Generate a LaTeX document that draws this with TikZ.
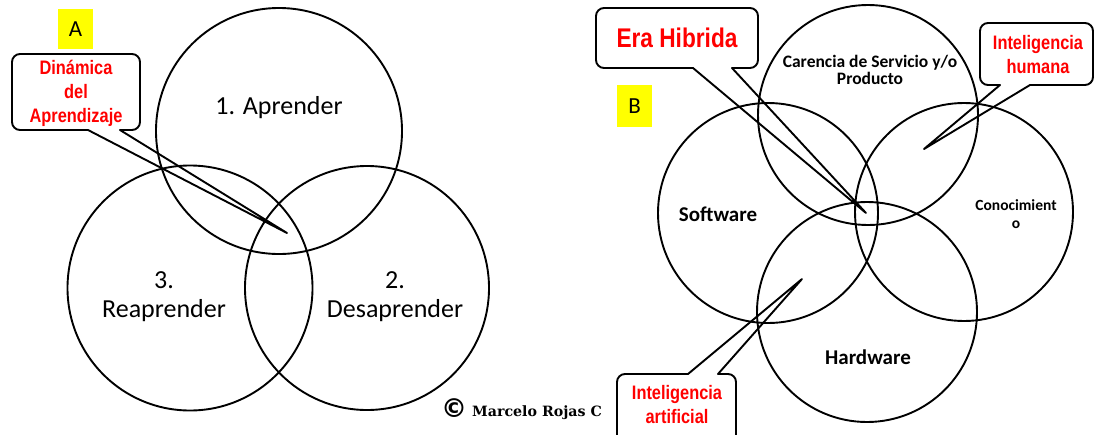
\documentclass[tikz,border=0pt]{standalone}
\usepackage{fontspec}
\newfontfamily\calibrifont{Carlito}
\newfontfamily\redfont[FakeStretch=0.84]{Liberation Sans}
\newfontfamily\symfont{DejaVu Sans}
\newfontfamily\creditfont{DejaVu Serif}
\definecolor{callred}{RGB}{255,0,0}
\definecolor{tagyellow}{RGB}{255,255,0}
% bubble with tail leaving the bottom edge: left, top, right, bottom, base1 x, base2 x, tip
\newcommand\bubbledown[7]{%
  \draw[bubbleline] (#5,#4) -- (#7) -- (#6,#4) -- (#3-8,#4)
    arc[start angle=90,end angle=0,radius=8] -- (#3,#2+8)
    arc[start angle=0,end angle=-90,radius=8] -- (#1+8,#2)
    arc[start angle=-90,end angle=-180,radius=8] -- (#1,#4-8)
    arc[start angle=180,end angle=90,radius=8] -- cycle;}
% bubble with tail leaving the top edge
\newcommand\bubbleup[7]{%
  \draw[bubbleline] (#6,#2) -- (#7) -- (#5,#2) -- (#1+8,#2)
    arc[start angle=-90,end angle=-180,radius=8] -- (#1,#4-8)
    arc[start angle=180,end angle=90,radius=8] -- (#3-8,#4)
    arc[start angle=90,end angle=0,radius=8] -- (#3,#2+8)
    arc[start angle=0,end angle=-90,radius=8] -- cycle;}
\begin{document}
\begin{tikzpicture}[x=1pt,y=-1pt,
  ring/.style={circle, draw, line width=1.9pt, inner sep=0pt, minimum size=#1},
  bubbleline/.style={draw, line width=1.9pt, line join=round},
  biglab/.style={font=\calibrifont\fontsize{26}{29}\selectfont, align=center, inner sep=0pt},
  blab/.style={font=\calibrifont\bfseries\fontsize{#1}{#1}\selectfont, align=center, inner sep=0pt},
  redlab/.style={font=\redfont\bfseries\fontsize{#1}{24}\selectfont, text=callred, align=center, inner sep=0pt},
  tag/.style={fill=tagyellow, minimum width=35pt, minimum height=41pt, inner sep=0pt, font=\calibrifont\fontsize{23}{23}\selectfont}]
\useasboundingbox (0,0) rectangle (1094,434);
\clip (0,0) rectangle (1094,434);
\fill[white] (0,0) rectangle (1094,434);

% ---------- Panel A ----------
\node[tag, minimum height=40pt] (tagA) at (75.5,29) {A};
\node[ring=246pt] (apr) at (279,131) {};
\node[ring=245pt] (rea) at (190,288) {};
\node[ring=244pt] (des) at (367,288) {};
\node[biglab] (aprL) at (279,108) {1. Aprender};
\node[biglab] (reaL) at (164,297) {3.\\Reaprender};
\node[biglab] (desL) at (395,297) {2.\\Desaprender};
\coordinate (tipA) at (287,233);
\bubbledown{12}{54}{140}{130}{88}{120}{tipA}
\node[redlab=19.5] (dinA) at (76,93) {Dinámica\\del\\Aprendizaje};

% ---------- Panel B ----------
\node[tag, minimum height=42pt] (tagB) at (634.5,106) {B};
\node[ring=220pt] (car) at (868,115) {};
\node[ring=220pt] (sof) at (768,213) {};
\node[ring=218pt] (con) at (964,212) {};
\node[ring=220pt] (har) at (867,312) {};
\node[font=\calibrifont\bfseries\fontsize{17.5}{17.5}\selectfont, align=center, inner sep=0pt] (carL) at (870,70) {Carencia de Servicio y/o\\Producto};
\node[blab=21] (sofL) at (718,214) {Software};
\node[font=\calibrifont\bfseries\fontsize{15.5}{18}\selectfont, align=center, inner sep=0pt] (conL) at (1016,214) {Conocimient\\o};
\node[blab=21] (harL) at (868,357) {Hardware};

\coordinate (tipEra) at (866,213);
\bubbledown{596}{8}{758}{68}{693}{732}{tipEra}
\node[font=\redfont\bfseries\fontsize{27}{27}\selectfont, text=callred, inner sep=0pt] (era) at (677,38) {Era Hibrida};

\coordinate (tipHum) at (924,149);
\bubbledown{980}{23}{1093}{85}{1000}{1030}{tipHum}
\node[redlab=19.5] (hum) at (1038,55) {Inteligencia\\humana};

\coordinate (tipArt) at (802,279);
\bubbleup{617}{374}{736}{450}{688}{718}{tipArt}
\node[redlab=19.5] (art) at (677,405) {Inteligencia\\artificial};

% ---------- credit ----------
\node[font=\symfont\bfseries\fontsize{26}{26}\selectfont, inner sep=0pt] (copy) at (454,408) {©};
\node[font=\creditfont\bfseries\fontsize{14.2}{14.2}\selectfont, inner sep=0pt] (auth) at (537,413) {Marcelo Rojas C};
\end{tikzpicture}
\end{document}
